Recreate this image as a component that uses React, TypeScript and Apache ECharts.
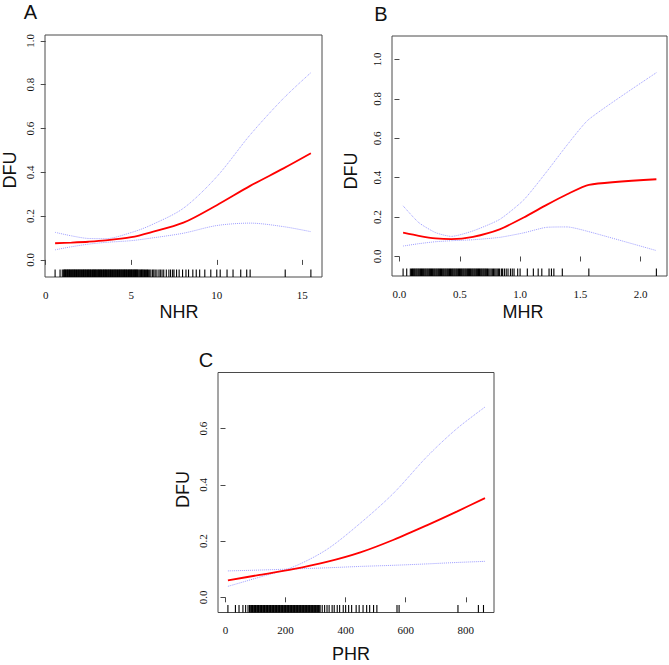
import React, { useRef, useEffect } from 'react'
import * as echarts from 'echarts'

// A: NHR
const nhrX = [0.55, 1.5, 2.5, 3.5, 5.0, 6.1, 8.05, 10.0, 11.95, 13.9, 15.5]
const nhrFit = [0.076, 0.079, 0.083, 0.089, 0.104, 0.125, 0.17, 0.25, 0.338, 0.418, 0.487]
const nhrUpper = [0.126, 0.11, 0.098, 0.097, 0.125, 0.157, 0.236, 0.38, 0.571, 0.738, 0.855]
const nhrLower = [0.046, 0.06, 0.072, 0.08, 0.088, 0.099, 0.122, 0.157, 0.168, 0.152, 0.129]
const nhrRug = [
  0.55, 0.84, 0.97,
  1.05, 1.09, 1.12, 1.16, 1.2, 1.24, 1.28, 1.31, 1.35, 1.39, 1.42, 1.46, 1.5, 1.54, 1.58, 1.61,
  1.65, 1.69, 1.72, 1.76, 1.8, 1.84, 1.88, 1.91, 1.95, 1.99, 2.02, 2.06, 2.1, 2.14, 2.18, 2.21,
  2.25, 2.29, 2.32, 2.36, 2.4, 2.44, 2.48, 2.51, 2.55, 2.59, 2.62, 2.66, 2.7, 2.74, 2.78, 2.81,
  2.85, 2.89, 2.92, 2.96, 3.0, 3.04, 3.08, 3.11, 3.15, 3.19, 3.22, 3.26, 3.3, 3.34, 3.38, 3.41,
  3.45, 3.49, 3.52, 3.56, 3.6, 3.64, 3.68, 3.71, 3.75, 3.79, 3.82, 3.86, 3.9, 3.94, 3.98, 4.01,
  4.05, 4.09, 4.12, 4.16, 4.2, 4.24, 4.28, 4.31, 4.35, 4.39, 4.42, 4.46, 4.5, 4.54, 4.58, 4.61,
  4.65, 4.69, 4.72, 4.76, 4.8, 4.84, 4.88, 4.91, 4.95, 4.99, 5.02, 5.06, 5.1, 5.14, 5.18, 5.21,
  5.25, 5.29, 5.32, 5.36, 5.4, 5.45, 5.5, 5.55, 5.6, 5.64, 5.68, 5.73, 5.78, 5.84, 5.9, 5.95, 6.0,
  6.08, 6.15, 6.25, 6.32, 6.4, 6.5, 6.62, 6.7, 6.8, 6.9, 7.05, 7.2, 7.3, 7.42, 7.5, 7.65, 7.8,
  8.0, 8.2, 8.35, 8.6, 8.8, 9.0, 9.3, 9.65, 10.0, 10.2, 10.6, 10.95, 11.4, 11.75, 11.95, 14.0, 15.5,
]

// B: MHR
const mhrX = [0.03, 0.16, 0.3, 0.43, 0.61, 0.83, 1.03, 1.22, 1.39, 1.57, 2.13]
const mhrFit = [0.121, 0.105, 0.092, 0.088, 0.1, 0.138, 0.198, 0.262, 0.316, 0.364, 0.392]
const mhrUpper = [0.257, 0.172, 0.121, 0.102, 0.13, 0.188, 0.287, 0.43, 0.566, 0.696, 0.933]
const mhrLower = [0.053, 0.065, 0.075, 0.08, 0.085, 0.097, 0.12, 0.148, 0.15, 0.126, 0.03]
const mhrRug = [
  0.03, 0.06, 0.09,
  0.1, 0.108, 0.115, 0.123, 0.13, 0.138, 0.145, 0.153, 0.16, 0.168, 0.175, 0.183, 0.19, 0.198,
  0.205, 0.213, 0.22, 0.228, 0.235, 0.243, 0.25, 0.258, 0.265, 0.273, 0.28, 0.288, 0.295, 0.303,
  0.31, 0.318, 0.325, 0.333, 0.34, 0.348, 0.355, 0.363, 0.37, 0.378, 0.385, 0.393, 0.4, 0.408,
  0.415, 0.423, 0.43, 0.438, 0.445, 0.453, 0.46, 0.468, 0.475, 0.483, 0.49, 0.498, 0.505, 0.513,
  0.52, 0.528, 0.535, 0.543, 0.55, 0.558, 0.565, 0.573, 0.58, 0.588, 0.595, 0.603, 0.61, 0.618,
  0.625, 0.633, 0.64, 0.648, 0.655, 0.663, 0.67, 0.678, 0.685, 0.693, 0.7, 0.708, 0.715, 0.723,
  0.73, 0.74, 0.75, 0.76, 0.77, 0.78, 0.79, 0.8, 0.81, 0.82, 0.83, 0.845, 0.855, 0.87, 0.885,
  0.9, 0.92, 0.935, 0.95, 0.98, 1.0, 1.06, 1.11, 1.15, 1.18, 1.24, 1.26, 1.28, 1.35, 1.57, 2.13,
]

// C: PHR
const phrX = [8, 114, 225, 337, 449, 560, 672, 770, 864]
const phrFit = [0.06, 0.08, 0.1, 0.126, 0.16, 0.205, 0.257, 0.305, 0.353]
const phrUpper = [0.039, 0.072, 0.108, 0.17, 0.264, 0.371, 0.502, 0.6, 0.677]
const phrLower = [0.094, 0.097, 0.101, 0.105, 0.11, 0.114, 0.119, 0.124, 0.128]
const phrRug = [
  8, 33, 45, 58, 67, 75,
  80, 82, 85, 87, 90, 92, 95, 97, 100, 102, 105, 107, 110, 112, 115, 117, 120, 122, 125, 127,
  130, 132, 135, 137, 140, 142, 145, 147, 150, 152, 155, 157, 160, 162, 165, 167, 170, 172, 175,
  177, 180, 182, 185, 187, 190, 192, 195, 197, 200, 202, 205, 207, 210, 212, 215, 217, 220, 222,
  225, 227, 230, 232, 235, 237, 240, 242, 245, 247, 250, 252, 255, 257, 260, 262, 265, 267, 270,
  272, 275, 277, 280, 282, 285, 287, 290, 292, 295, 297, 300, 302, 305, 307, 310, 312, 315,
  322, 330, 338, 345, 355, 362, 372, 380, 392, 400, 410, 420, 435, 445, 458, 470, 480, 493, 504,
  571, 578, 774, 842, 859,
]

const xTicksA = [0, 5, 10, 15]
const xTicksB = [0, 0.5, 1.0, 1.5, 2.0]
const xTicksC = [0, 200, 400, 600, 800]
const yTicksAB = [0, 0.2, 0.4, 0.6, 0.8, 1.0]
const yTicksC = [0, 0.2, 0.4, 0.6]

const SERIF = '"Liberation Serif", "DejaVu Serif", serif'
const SANS = '"Liberation Sans", Arial, sans-serif'
const FRAME = '#4a4a4a'

function App() {
  const chartRef = useRef(null)

  useEffect(() => {
    const chart = echarts.init(chartRef.current, null, { renderer: 'svg' })

    const panels = [
      { grid: { left: 45, top: 35, width: 277, height: 242 }, xr: [-0.04, 16.15], yr: [-0.078, 1.027], xt: xTicksA, yt: yTicksAB, xf: (v) => String(v), x: nhrX, fit: nhrFit, up: nhrUpper, lo: nhrLower, rug: nhrRug, smooth: 0.3 },
      { grid: { left: 392, top: 36, width: 275, height: 240 }, xr: [-0.062, 2.218], yr: [-0.099, 1.119], xt: xTicksB, yt: yTicksAB, xf: (v) => v.toFixed(1), x: mhrX, fit: mhrFit, up: mhrUpper, lo: mhrLower, rug: mhrRug, smooth: 0.2 },
      { grid: { left: 218, top: 372.5, width: 276, height: 240 }, xr: [-25, 894], yr: [-0.054, 0.8], xt: xTicksC, yt: yTicksC, xf: (v) => String(v), x: phrX, fit: phrFit, up: phrUpper, lo: phrLower, rug: phrRug, smooth: 0.3 },
    ]

    const series = []
    panels.forEach((p, i) => {
      const pair = (ys) => p.x.map((x, k) => [x, ys[k]])
      ;[p.up, p.lo].forEach((ys) => {
        series.push({
          type: 'line', xAxisIndex: i, yAxisIndex: i, data: pair(ys), symbol: 'none',
          smooth: p.smooth, lineStyle: { color: '#9d9dff', width: 1, type: 'dotted' }, z: 2,
        })
      })
      series.push({
        type: 'line', xAxisIndex: i, yAxisIndex: i, data: pair(p.fit), symbol: 'none',
        smooth: p.smooth, lineStyle: { color: '#ff0000', width: 1.8 }, z: 3,
      })
      const yMin = p.yr[0]
      // rug ticks along the bottom of the plot
      series.push({
        type: 'custom', xAxisIndex: i, yAxisIndex: i, silent: true,
        data: p.rug.map((v) => [v, yMin]),
        encode: { x: 0, y: 1 },
        renderItem: (params, api) => {
          const pt = api.coord([api.value(0), api.value(1)])
          return {
            type: 'line',
            shape: { x1: pt[0], y1: pt[1], x2: pt[0], y2: pt[1] - 7.5 },
            style: { stroke: '#000', lineWidth: 1.1 },
          }
        },
      })
    })

    const texts = [
      { t: 'A', x: 30.5, y: 12, s: 20, r: 0 },
      { t: 'B', x: 381, y: 14, s: 20, r: 0 },
      { t: 'C', x: 206, y: 360, s: 20, r: 0 },
      { t: 'DFU', x: 10, y: 170, s: 18, r: Math.PI / 2 },
      { t: 'DFU', x: 351, y: 171, s: 18, r: Math.PI / 2 },
      { t: 'DFU', x: 183, y: 489.5, s: 18, r: Math.PI / 2 },
      { t: 'NHR', x: 179, y: 312, s: 18, r: 0 },
      { t: 'MHR', x: 523, y: 312, s: 18, r: 0 },
      { t: 'PHR', x: 351, y: 654, s: 18, r: 0 },
    ]

    const option = {
      animation: false,
      backgroundColor: '#fff',
      grid: panels.map((p) => ({ ...p.grid, show: true, borderColor: FRAME, borderWidth: 1, backgroundColor: 'transparent' })),
      xAxis: panels.map((p, i) => ({
        type: 'value', gridIndex: i, min: p.xr[0], max: p.xr[1],
        axisLine: { show: false },
        splitLine: { show: false },
        axisTick: { show: true, length: 5, customValues: p.xt, lineStyle: { color: FRAME } },
        axisLabel: { customValues: p.xt, formatter: p.xf, fontFamily: SERIF, fontSize: 11, color: '#111', margin: 12 },
      })),
      yAxis: panels.map((p, i) => ({
        type: 'value', gridIndex: i, min: p.yr[0], max: p.yr[1],
        axisLine: { show: false },
        splitLine: { show: false },
        axisTick: { show: true, length: 5, customValues: p.yt, lineStyle: { color: FRAME } },
        axisLabel: { customValues: p.yt, formatter: (v) => v.toFixed(1), rotate: 90, fontFamily: SERIF, fontSize: 11, color: '#111', margin: 10 },
      })),
      series,
      graphic: texts.map((d) => ({
        type: 'text', x: d.x, y: d.y, rotation: d.r, silent: true,
        style: { text: d.t, fontFamily: SANS, fontSize: d.s, fill: '#111', align: 'center', verticalAlign: 'middle' },
      })),
    }

    chart.setOption(option)

    return () => {
      chart.dispose()
    }
  }, [])

  return <div ref={chartRef} style={{ position: 'fixed', left: 0, top: 0, width: 669, height: 665 }}></div>
}

export default App
